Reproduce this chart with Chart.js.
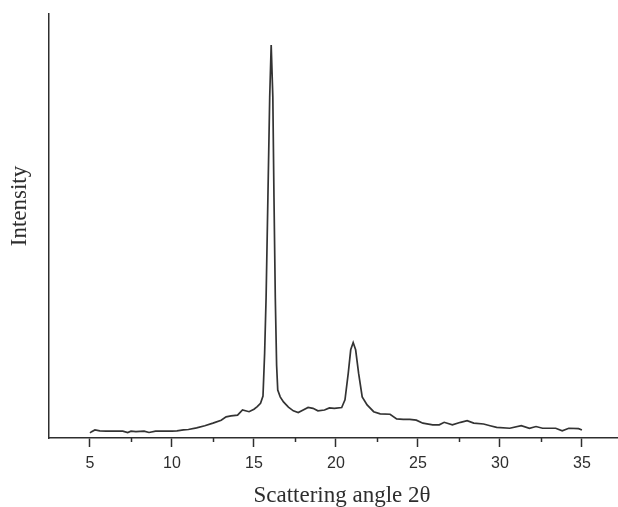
<!DOCTYPE html>
<html>
<head>
<meta charset="utf-8">
<script src="https://cdn.jsdelivr.net/npm/chart.js@4/dist/chart.umd.min.js"></script>
<style>
    html, body { margin: 0; padding: 0; background: #ffffff; }
    #wrap { width: 618px; height: 507px; position: relative; }
</style>
</head>
<body>
<div id="wrap"><canvas id="xrdChart"></canvas></div>
<script>
// scattering angle 2θ (degrees) and intensity (arbitrary units)
const angle = [
    5.0, 5.1, 5.3, 5.6, 6.0, 6.5, 7.0, 7.3, 7.5, 7.8,
    8.3, 8.6, 9.0, 9.5, 10.0, 10.3, 10.7, 11.0, 11.5, 12.0,
    12.5, 13.0, 13.3, 13.6, 14.0, 14.3, 14.7, 15.0, 15.2, 15.4,
    15.55, 15.65, 15.74, 15.85, 15.96, 16.05, 16.15, 16.22, 16.3, 16.38,
    16.45, 16.6, 16.8, 17.1, 17.4, 17.7, 18.0, 18.3, 18.6, 18.9,
    19.3, 19.6, 19.9, 20.35, 20.55, 20.75, 20.9, 21.05, 21.2, 21.38,
    21.6, 21.9, 22.3, 22.7, 23.3, 23.7, 24.1, 24.5, 24.9, 25.3,
    25.9, 26.3, 26.6, 27.1, 27.6, 28.0, 28.4, 29.0, 29.4, 29.8,
    30.6, 31.3, 31.8, 32.2, 32.6, 33.4, 33.8, 34.2, 34.8, 35.0,
];

const intensity = [
    12, 15, 19, 17, 16, 16, 16, 13, 16, 15,
    16, 13, 16, 16, 16, 17, 19, 20, 24, 29,
    35, 42, 50, 52, 54, 66, 62, 68, 74, 82,
    99, 200, 332, 568, 804, 927, 804, 568, 332, 172,
    113, 97, 85, 73, 64, 60, 66, 72, 70, 64,
    66, 71, 70, 72, 90, 153, 208, 225, 208, 153,
    97, 78, 62, 57, 56, 45, 44, 44, 42, 35,
    31, 31, 37, 31, 37, 41, 35, 33, 29, 25,
    23, 29, 23, 27, 23, 23, 17, 23, 22, 19,
];

const majorTicks = [5, 10, 15, 20, 25, 30, 35];
const minorTicks = [7.5, 12.5, 17.5, 22.5, 27.5, 32.5];

const xTitle = 'Scattering angle 2θ';
const yTitle = 'Intensity';

const axisColor = '#2e2e2e';
const serifFont = '"Liberation Serif", "Times New Roman", serif';

// short minor ticks and the two axis titles
const extrasPlugin = {
    id: 'extras',
    afterDraw(chart) {
        const { ctx, scales } = chart;
        const x = scales.x;
        const axisY = chart.chartArea.bottom;

        ctx.save();
        ctx.strokeStyle = axisColor;
        ctx.lineWidth = 1.5;
        minorTicks.forEach((v) => {
            const px = Math.round(x.getPixelForValue(v)) + 0.5;
            ctx.beginPath();
            ctx.moveTo(px, axisY);
            ctx.lineTo(px, axisY + 4);
            ctx.stroke();
        });

        ctx.fillStyle = axisColor;
        ctx.font = '23px ' + serifFont;
        ctx.textAlign = 'center';
        ctx.textBaseline = 'alphabetic';
        ctx.fillText(xTitle, 342, 502);

        ctx.translate(26, 206);
        ctx.rotate(-Math.PI / 2);
        ctx.fillText(yTitle, 0, 0);
        ctx.restore();
    },
};

new Chart(document.getElementById('xrdChart'), {
    type: 'line',

    data: {
        datasets: [
            {
                data: angle.map((a, i) => ({ x: a, y: intensity[i] })),
                borderColor: '#333333',
                borderWidth: 1.7,
                pointRadius: 0,
                tension: 0,
                fill: false,
            },
        ],
    },

    options: {
        responsive: true,
        maintainAspectRatio: false,
        animation: false,

        layout: {
            padding: { top: 14, right: 0, bottom: 0, left: 0 },
        },

        plugins: {
            legend: { display: false },
            tooltip: { enabled: false },
        },

        scales: {
            x: {
                type: 'linear',
                min: 2.5,
                max: 37.2,

                afterFit(scale) {
                    scale.height = 69;
                },

                ticks: {
                    stepSize: 2.5,
                    includeBounds: false,
                    autoSkip: false,
                    maxRotation: 0,
                    padding: 7,
                    color: axisColor,
                    font: { family: '"Liberation Sans", Arial, sans-serif', size: 16 },

                    callback(value) {
                        return majorTicks.includes(value) ? String(value) : '';
                    },
                },

                grid: {
                    drawOnChartArea: false,
                    tickLength: 9,
                    tickWidth: 1.5,

                    tickColor(context) {
                        return majorTicks.includes(context.tick.value) ? axisColor : 'transparent';
                    },
                },

                border: {
                    color: axisColor,
                    width: 1.5,
                },
            },

            y: {
                min: 0,
                max: 1000,

                afterFit(scale) {
                    scale.width = 49;
                },

                ticks: { display: false },
                grid: { display: false },

                border: {
                    color: axisColor,
                    width: 1.5,
                },
            },
        },
    },

    plugins: [extrasPlugin],
});
</script>
</body>
</html>
